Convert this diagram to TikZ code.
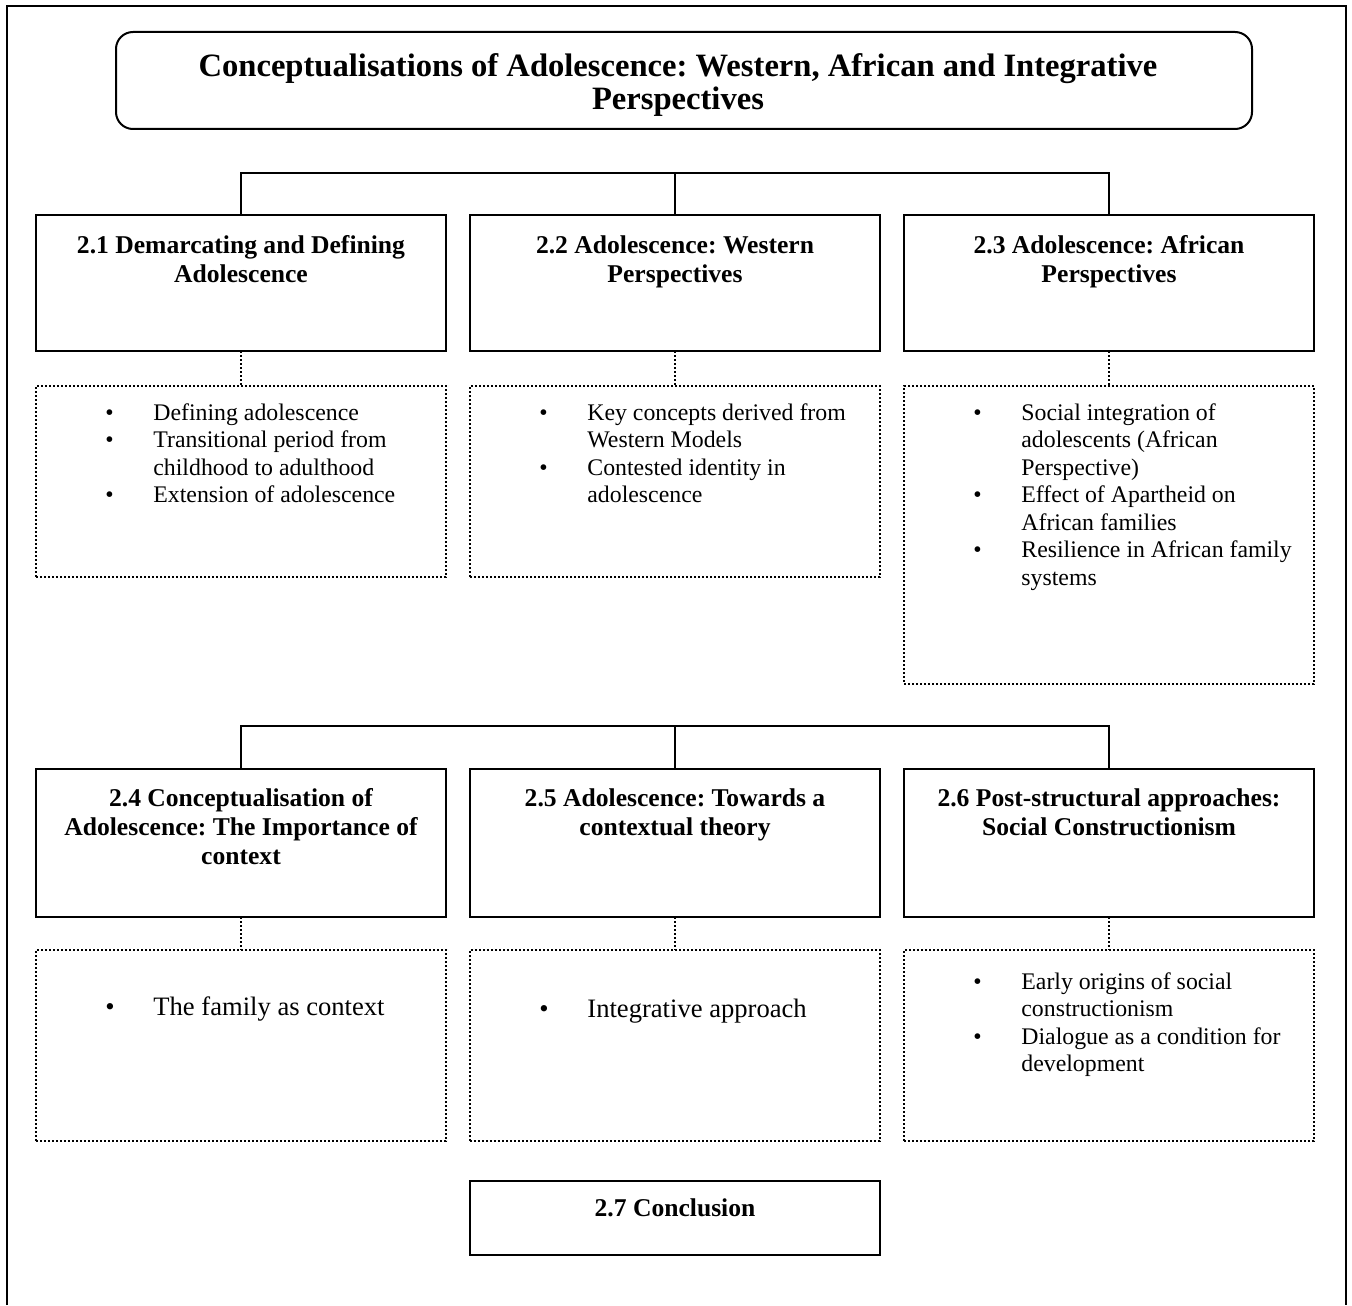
\documentclass[tikz,border=0pt]{standalone}
\usepackage{fontspec}
\setmainfont{Liberation Serif}
\usetikzlibrary{calc}
\frenchspacing

% font sizes used in the chart
\newcommand\ttlfont{\fontsize{16.3}{16.5}\selectfont\bfseries}
\newcommand\hdfont{\fontsize{12.8}{14.5}\selectfont\bfseries}
\newcommand\bdfont{\fontsize{11.9}{13.75}\selectfont}
\newcommand\bdlfont{\fontsize{13.3}{15}\selectfont}

% centred multi-line heading, baseline on its first line
\newcommand\hdlines[1]{\begin{tabular}[t]{@{}c@{}}#1\end{tabular}}
% bulleted list: bullet column, then the item text
\newcommand\blist[1]{\begin{tabular}[t]{@{}p{24pt}@{}l@{}}#1\end{tabular}}
\newcommand\itm{\textbullet &}

\tikzset{
  frame/.style={line width=1.2pt},
  solidbox/.style={draw, line width=1pt, rectangle, inner sep=0pt, outer sep=0pt, anchor=north west},
  dotbox/.style={draw, line width=1pt, dash pattern=on 1pt off 1pt, rectangle, inner sep=0pt, outer sep=0pt, anchor=north west},
  titlebox/.style={draw, line width=1pt, rounded corners=8.5pt, rectangle, inner sep=0pt, outer sep=0pt, anchor=north west},
  link/.style={line width=1pt},
  dotlink/.style={line width=1pt, dash pattern=on 1pt off 1pt},
  head/.style={inner sep=0pt, anchor=base, font=\hdfont},
  body/.style={inner sep=0pt, anchor=base west, font=\bdfont},
  bodyl/.style={inner sep=0pt, anchor=base west, font=\bdlfont},
}

\begin{document}
\begin{tikzpicture}[x=0.5pt, y=-0.5pt]
\useasboundingbox (0,0) rectangle (1352,1305);

% page frame, open at the bottom
\draw[frame] (7,1305) -- (7,6) -- (1346,6) -- (1346,1305);

% title
\node[titlebox, minimum width=568pt, minimum height=48.5pt] (title) at (116,32) {};
\node[inner sep=0pt, anchor=base, font=\ttlfont] (titletext) at (678,77)
  {\begin{tabular}[t]{@{}c@{}}Conceptualisations of Adolescence: Western, African and Integrative\\Perspectives\end{tabular}};

% ---- first row of sections ----
\node[solidbox, minimum width=205pt, minimum height=68pt] (b1) at (36,215) {};
\node[solidbox, minimum width=205pt, minimum height=68pt] (b2) at (470,215) {};
\node[solidbox, minimum width=205pt, minimum height=68pt] (b3) at (904,215) {};
\node[head] (h1) at (241,253) {\hdlines{2.1 Demarcating and Defining\\Adolescence}};
\node[head] (h2) at (675,253) {\hdlines{2.2 Adolescence: Western\\Perspectives}};
\node[head] (h3) at (1109,253) {\hdlines{2.3 Adolescence: African\\Perspectives}};

\coordinate (j1) at (675,173);
\draw[link] (b1.north) |- (j1) -| (b3.north);
\draw[link] (j1) -- (b2.north);

\node[dotbox, minimum width=205pt, minimum height=95.5pt] (d1) at (36,386) {};
\node[dotbox, minimum width=205pt, minimum height=95.5pt] (d2) at (470,386) {};
\node[dotbox, minimum width=205pt, minimum height=149pt] (d3) at (904,386) {};
\draw[dotlink] (b1.south) -- (d1.north);
\draw[dotlink] (b2.south) -- (d2.north);
\draw[dotlink] (b3.south) -- (d3.north);

\node[body] (l1) at (105,420) {\blist{%
  \itm Defining adolescence\\
  \itm Transitional period from\\
  & childhood to adulthood\\
  \itm Extension of adolescence}};
\node[body] (l2) at (539,420) {\blist{%
  \itm Key concepts derived from\\
  & Western Models\\
  \itm Contested identity in\\
  & adolescence}};
\node[body] (l3) at (973,420) {\blist{%
  \itm Social integration of\\
  & adolescents (African\\
  & Perspective)\\
  \itm Effect of Apartheid on\\
  & African families\\
  \itm Resilience in African family\\
  & systems}};

% ---- second row of sections ----
\node[solidbox, minimum width=205pt, minimum height=74pt] (b4) at (36,769) {};
\node[solidbox, minimum width=205pt, minimum height=74pt] (b5) at (470,769) {};
\node[solidbox, minimum width=205pt, minimum height=74pt] (b6) at (904,769) {};
\node[head] (h4) at (241,806) {\hdlines{2.4 Conceptualisation of\\Adolescence: The Importance of\\context}};
\node[head] (h5) at (675,806) {\hdlines{2.5 Adolescence: Towards a\\contextual theory}};
\node[head] (h6) at (1109,806) {\hdlines{2.6 Post-structural approaches:\\Social Constructionism}};

\coordinate (j2) at (675,726);
\draw[link] (b4.north) |- (j2) -| (b6.north);
\draw[link] (j2) -- (b5.north);

\node[dotbox, minimum width=205pt, minimum height=95.5pt] (d4) at (36,950) {};
\node[dotbox, minimum width=205pt, minimum height=95.5pt] (d5) at (470,950) {};
\node[dotbox, minimum width=205pt, minimum height=95.5pt] (d6) at (904,950) {};
\draw[dotlink] (b4.south) -- (d4.north);
\draw[dotlink] (b5.south) -- (d5.north);
\draw[dotlink] (b6.south) -- (d6.north);

\node[bodyl] (l4) at (105,1015) {\blist{\itm The family as context}};
\node[bodyl] (l5) at (539,1017) {\blist{\itm Integrative approach}};
\node[body] (l6) at (973,989) {\blist{%
  \itm Early origins of social\\
  & constructionism\\
  \itm Dialogue as a condition for\\
  & development}};

% conclusion
\node[solidbox, minimum width=205pt, minimum height=37pt] (b7) at (470,1181) {};
\node[head] (h7) at (675,1216) {2.7 Conclusion};

\end{tikzpicture}
\end{document}
